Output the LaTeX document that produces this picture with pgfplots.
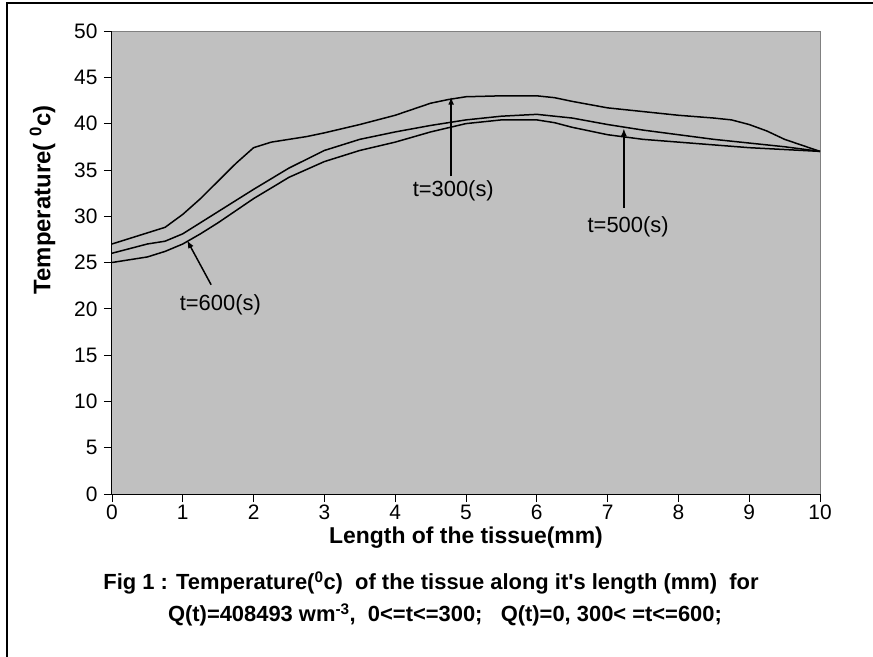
\documentclass[border=0pt]{standalone}
\usepackage{fontspec}
\setmainfont{Liberation Sans}[Ligatures=TeXOff]
\usepackage{pgfplots}
\pgfplotsset{compat=1.18}
\usetikzlibrary{arrows.meta}
\definecolor{plotgray}{RGB}{192,192,192}
\definecolor{framegray}{RGB}{128,128,128}
\begin{document}
\begin{tikzpicture}
\useasboundingbox (-112bp,-163bp) rectangle (761bp,494bp);
% page frame (top and left)
\draw[line width=1.3bp] (-105bp,-163bp) -- (-105bp,491bp) -- (761bp,491bp);
\begin{axis}[
  at={(0,0)}, anchor=south west,
  width=708bp, height=463bp, scale only axis,
  xmin=0, xmax=10, ymin=0, ymax=50,
  xtick={0,1,...,10}, ytick={0,5,...,50},
  axis background/.style={fill=plotgray, draw=framegray, line width=1bp},
  axis lines=left,
  axis line style={-, black, line width=1bp},
  tick align=outside,
  major tick length=8bp,
  tick style={black, line width=0.8bp},
  /pgf/number format/assume math mode=true,
  tick label style={font=\fontsize{21}{23}\selectfont},
  yticklabel style={xshift=-3bp},
  xticklabel style={text height=15bp, text depth=0pt, yshift=1bp},
  xlabel={\textbf{Length of the tissue(mm)}},
  xlabel style={font=\fontsize{23}{26}\selectfont, at={(axis description cs:0.5,-0.094)}, anchor=center},
  ylabel={\textbf{Temperature( \textsuperscript{0}c)}},
  ylabel style={font=\fontsize{24}{27}\selectfont, at={(axis description cs:-0.098,0.635)}, anchor=center},
  clip=false,
]
% t=300 s
\addplot[black, line width=1.5bp] coordinates {
  (0,27.0) (0.25,27.6) (0.5,28.2) (0.75,28.8) (1,30.2) (1.25,31.9) (1.5,33.8)
  (1.75,35.7) (2,37.4) (2.25,38.0) (2.5,38.3) (2.75,38.6) (3,39.0) (3.5,39.9)
  (4,40.9) (4.5,42.2) (4.75,42.6) (5,42.9) (5.5,43.0) (6,43.0) (6.25,42.8)
  (6.5,42.4) (7,41.7) (7.5,41.3) (8,40.9) (8.5,40.6) (8.75,40.4) (9,39.9)
  (9.25,39.2) (9.5,38.3) (10,37.0)
};
% t=500 s
\addplot[black, line width=1.5bp] coordinates {
  (0,26.0) (0.25,26.5) (0.5,27.0) (0.75,27.3) (1,28.1) (1.25,29.3) (1.5,30.5)
  (1.75,31.7) (2,32.9) (2.5,35.2) (3,37.1) (3.5,38.3) (4,39.1) (4.5,39.8)
  (5,40.4) (5.5,40.8) (6,41.0) (6.5,40.6) (7,39.9) (7.5,39.3) (8,38.8)
  (8.5,38.3) (9,37.9) (9.5,37.5) (10,37.0)
};
% t=600 s
\addplot[black, line width=1.5bp] coordinates {
  (0,25.0) (0.25,25.3) (0.5,25.6) (0.75,26.2) (1,27.0) (1.25,28.1) (1.5,29.3)
  (1.75,30.6) (2,31.9) (2.5,34.2) (3,35.9) (3.5,37.1) (4,38.0) (4.5,39.1)
  (5,40.0) (5.5,40.4) (6,40.4) (6.25,40.1) (6.5,39.6) (7,38.8) (7.5,38.3)
  (8,38.0) (8.5,37.7) (9,37.4) (9.5,37.2) (10,37.0)
};
% annotations
\draw[line width=1.5bp, -{Latex[length=8bp,width=6bp]}] (axis cs:4.79,34.3) -- (axis cs:4.79,42.9);
\node[font=\fontsize{22}{24}\selectfont] at (axis cs:4.82,32.7) {t=300(s)};
\draw[line width=1.5bp, -{Latex[length=8bp,width=6bp]}] (axis cs:7.23,30.9) -- (axis cs:7.23,39.5);
\node[font=\fontsize{22}{24}\selectfont] at (axis cs:7.29,28.8) {t=500(s)};
\draw[line width=1.5bp, -{Latex[length=8bp,width=6bp]}] (axis cs:1.40,22.6) -- (axis cs:1.06,27.4);
\node[font=\fontsize{22}{24}\selectfont] at (axis cs:1.53,20.4) {t=600(s)};
\end{axis}
% caption
\node[font=\bfseries\fontsize{22}{24}\selectfont] at (319bp,-89bp)
  {Fig 1 : Temperature(\textsuperscript{0}c)\ \ of the tissue along it's length (mm)\ \ for};
\node[font=\bfseries\fontsize{22}{24}\selectfont] at (333bp,-121bp)
  {Q(t)=408493 wm\textsuperscript{-3},\ \ 0<=t<=300;\ \ \ Q(t)=0, 300< =t<=600;};
\end{tikzpicture}
\end{document}
